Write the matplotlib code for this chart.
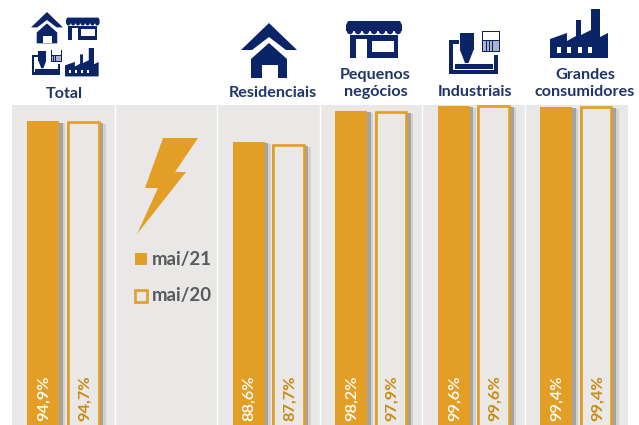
import matplotlib
matplotlib.use('Agg')
import matplotlib.pyplot as plt
from matplotlib.patches import Polygon, Rectangle, Circle

plt.rcParams['font.family'] = ['Lato', 'DejaVu Sans']

# data
groups = ['Total', None, 'Residenciais', 'Pequenos\nnegócios', 'Industriais', 'Grandes\nconsumidores']
mai21 = [94.9, None, 88.6, 98.2, 99.6, 99.4]
mai20 = [94.7, None, 87.7, 97.9, 99.6, 99.4]
series_names = ['mai/21', 'mai/20']

ORANGE = '#E29E25'
PANEL = '#E9E8E6'
NAVY = '#0A2467'
TEXTBLUE = '#1F3468'
W, H = 639, 425

fig = plt.figure(figsize=(W / 100, H / 100), dpi=100)

# bars axes, pixel box of the grey panels
left, right, top, bottom = 12, 627.5, 105, 425
ax = fig.add_axes([left / W, 1 - bottom / H, (right - left) / W, (bottom - top) / H])
px_per_pct = 3.27
ax.set_xlim(0, 6)
ax.set_ylim(99.6 - (bottom - 106) / px_per_pct, 99.6 + 1 / px_per_pct)
ax.axis('off')
ax.axvspan(0, 6, color=PANEL, lw=0, zorder=0)
for i in range(1, 6):
    ax.axvline(i, color='white', lw=1.0, zorder=1)

floor = ax.get_ylim()[0] - 5
px = 6 / (right - left)
for i in range(6):
    if mai21[i] is None:
        continue
    for x, w, v in [(i + 0.15, 0.312, mai21[i]), (i + 0.535, 0.32, mai20[i])]:
        ax.bar(x, v - floor - 0.6, w + 6 * px, bottom=floor, align='edge', color='#d2d1cf', lw=0, zorder=2)
        ax.bar(x, v - floor - 0.4, w + 3.5 * px, bottom=floor, align='edge', color='#a3a3a3', lw=0, zorder=2)
    ax.bar(i + 0.15, mai21[i] - floor, 0.312, bottom=floor, align='edge', color=ORANGE, lw=0, zorder=3)
    ax.bar(i + 0.535 + 1.2 * px, mai20[i] - floor, 0.32 - 2.4 * px, bottom=floor, align='edge',
           facecolor=PANEL, edgecolor=ORANGE, lw=1.9, zorder=3, clip_on=False)

# overlay in pixels for icons and texts
ov = fig.add_axes([0, 0, 1, 1], facecolor='none')
ov.set_xlim(0, W)
ov.set_ylim(H, 0)
ov.axis('off')


def poly(pts, ox, oy, s, color=NAVY):
    ov.add_patch(Polygon([(ox + x * s, oy + y * s) for x, y in pts], closed=True, fc=color, ec='none'))


def rect(x, y, w, h, ox, oy, s, color=NAVY):
    ov.add_patch(Rectangle((ox + x * s, oy + y * s), w * s, h * s, fc=color, ec='none'))


def house(ox, oy, s):
    poly([(0, 27), (11, 27), (28, 14), (45, 27), (56, 27), (28, 0)], ox, oy, s)
    poly([(28, 20), (10, 36), (10, 55), (46, 55), (46, 36)], ox, oy, s)
    rect(20.5, 42, 16.5, 13, ox, oy, s, 'white')


def shop(ox, oy, s):
    poly([(2, 1), (54, 1), (56, 5), (56, 11), (0, 11), (0, 5)], ox, oy, s)
    for k in range(7):
        ov.add_patch(Circle((ox + (4 + k * 8) * s, oy + 11 * s), 3.2 * s, fc=NAVY, ec='none'))
    rect(4, 15, 48, 23, ox, oy, s)
    rect(9.5, 19, 11, 19, ox, oy, s, 'white')
    rect(25.5, 20.5, 22.5, 11, ox, oy, s, 'white')


def machine(ox, oy, s):
    rect(0, 12, 4, 34, ox, oy, s)
    rect(0, 12, 10, 3.5, ox, oy, s)
    rect(0, 42, 49, 4, ox, oy, s)
    rect(45, 27, 4, 19, ox, oy, s)
    rect(6, 36, 38, 5, ox, oy, s)
    rect(11, 5, 13.5, 17, ox, oy, s)
    poly([(11, 22), (24.5, 22), (19.5, 35), (16, 35)], ox, oy, s)
    rect(33, 3, 18, 21, ox, oy, s)
    rect(34.2, 4.2, 15.6, 8, ox, oy, s, 'white')
    rect(34.2, 13, 15.6, 10, ox, oy, s, '#a9b3cd')
    for gx in [37, 40, 43, 46.5]:
        rect(gx, 13, 0.7, 10, ox, oy, s, NAVY)


def factory(ox, oy, s):
    poly([(0, 49), (0, 30), (17, 24), (17, 32), (26, 27), (26, 11), (31, 11), (31, 26), (41, 21),
          (41, 0), (50, 0), (50, 28), (58, 24), (58, 49)], ox, oy, s)
    for wx in [6.5, 17, 27.5, 38]:
        rect(wx, 38, 4, 5.5, ox, oy, s, 'white')


house(241, 23, 1)
shop(346, 20, 1)
machine(449, 28, 1)
factory(550, 9, 1)
house(31, 12, 0.57)
shop(66, 17, 0.6)
machine(32, 48, 0.58)
factory(65, 48, 0.58)

# lightning
poly([(163, 138), (198, 138), (175, 172), (186, 172), (137, 234), (158, 188), (145, 188)], 0, 0, 1, ORANGE)

# group names
name_x = [64, None, 272.5, 375.5, 475, 585]
name_y = [94, None, 93, 83.5, 92, 83.5]
for i, name in enumerate(groups):
    if name is None:
        continue
    ov.text(name_x[i], name_y[i], name, ha='center', va='center', fontsize=11.6, fontweight='bold',
            color=TEXTBLUE, linespacing=1.3)

# value labels, placed from the bar positions
for i in range(6):
    if mai21[i] is None:
        continue
    x0 = left + (i + 0.15 + 0.156) * (right - left) / 6
    x1 = left + (i + 0.535 + 0.16) * (right - left) / 6
    ov.text(x0 + 1, 421, f'{mai21[i]:.1f}%'.replace('.', ','), rotation=90, ha='center', va='bottom',
            fontsize=11.8, color='white', fontweight='semibold')
    ov.text(x1 + 1.5, 421, f'{mai20[i]:.1f}%'.replace('.', ','), rotation=90, ha='center', va='bottom',
            fontsize=11.8, color='#C98A10', fontweight='bold')

# legend
ov.add_patch(Rectangle((135, 253), 12, 12, fc=ORANGE, ec='none'))
ov.add_patch(Rectangle((135.3, 290.3), 11.5, 11.5, fc=PANEL, ec=ORANGE, lw=1.9))
ov.text(152, 259, series_names[0], va='center', fontsize=13.4, fontweight='bold', color='#595959')
ov.text(152, 296, series_names[1], va='center', fontsize=13.4, fontweight='bold', color='#595959')

fig.savefig('out.png', dpi=100)
